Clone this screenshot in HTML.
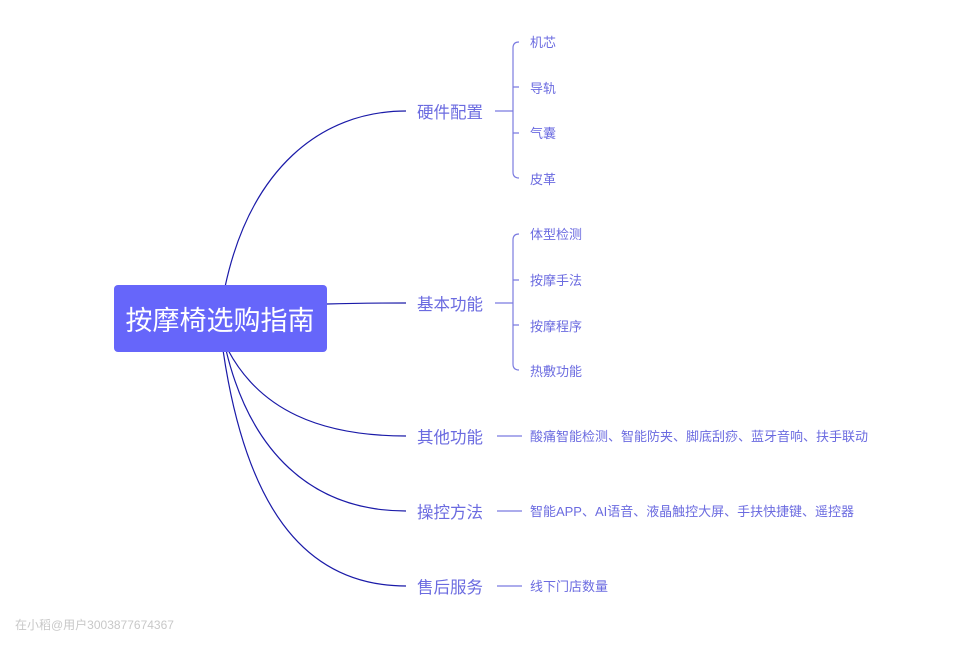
<!DOCTYPE html>
<html><head><meta charset="utf-8"><style>
html,body{margin:0;padding:0;background:#fff;}
svg{display:block;}
text{font-family:"Liberation Sans","Noto Sans CJK SC",sans-serif;}
</style></head><body>
<svg width="971" height="647" viewBox="0 0 971 647" xmlns="http://www.w3.org/2000/svg">
<g fill="none" stroke="#1a1aa8" stroke-width="1.2">
<path d="M225 287 C 250 170, 320 111, 406 111"/>
<path d="M327 304 C 360 303, 380 303, 406 303"/>
<path d="M228 350 C 260 410, 320 436, 406 436"/>
<path d="M226 350 C 250 450, 310 511, 406 511"/>
<path d="M223 350 C 245 500, 300 586, 406 586"/>
</g>
<g fill="none" stroke="#7b7be0" stroke-width="1.2">
<path d="M495 111 H513"/>
<path d="M519 42 Q513 42 513 48 V172 Q513 178 519 178"/>
<path d="M513 87 H519 M513 133 H519"/>
<path d="M495 303 H513"/>
<path d="M519 234 Q513 234 513 240 V364 Q513 370 519 370"/>
<path d="M513 280 H519 M513 325 H519"/>
<path d="M497 436 H522 M497 511 H522 M497 586 H522"/>
</g>
<rect x="114" y="285" width="213" height="67" rx="4" fill="#6666fa"/>
<text x="220" y="330" font-size="27" fill="#fff" text-anchor="middle">按摩椅选购指南</text>
<g font-size="16.5" fill="#6b6be0">
<text x="417" y="118">硬件配置</text>
<text x="417" y="310">基本功能</text>
<text x="417" y="443">其他功能</text>
<text x="417" y="518">操控方法</text>
<text x="417" y="593">售后服务</text>
</g>
<g font-size="13" fill="#6b6be0">
<text x="530" y="47">机芯</text>
<text x="530" y="93">导轨</text>
<text x="530" y="138">气囊</text>
<text x="530" y="184">皮革</text>
<text x="530" y="239">体型检测</text>
<text x="530" y="285">按摩手法</text>
<text x="530" y="331">按摩程序</text>
<text x="530" y="376">热敷功能</text>
<text x="530" y="441" textLength="338" lengthAdjust="spacingAndGlyphs">酸痛智能检测、智能防夹、脚底刮痧、蓝牙音响、扶手联动</text>
<text x="530" y="516" textLength="324" lengthAdjust="spacingAndGlyphs">智能APP、AI语音、液晶触控大屏、手扶快捷键、遥控器</text>
<text x="530" y="591">线下门店数量</text>
</g>
<text x="15" y="629" font-size="12" fill="#c8c8c8">在小稻@用户3003877674367</text>
</svg>
</body></html>
